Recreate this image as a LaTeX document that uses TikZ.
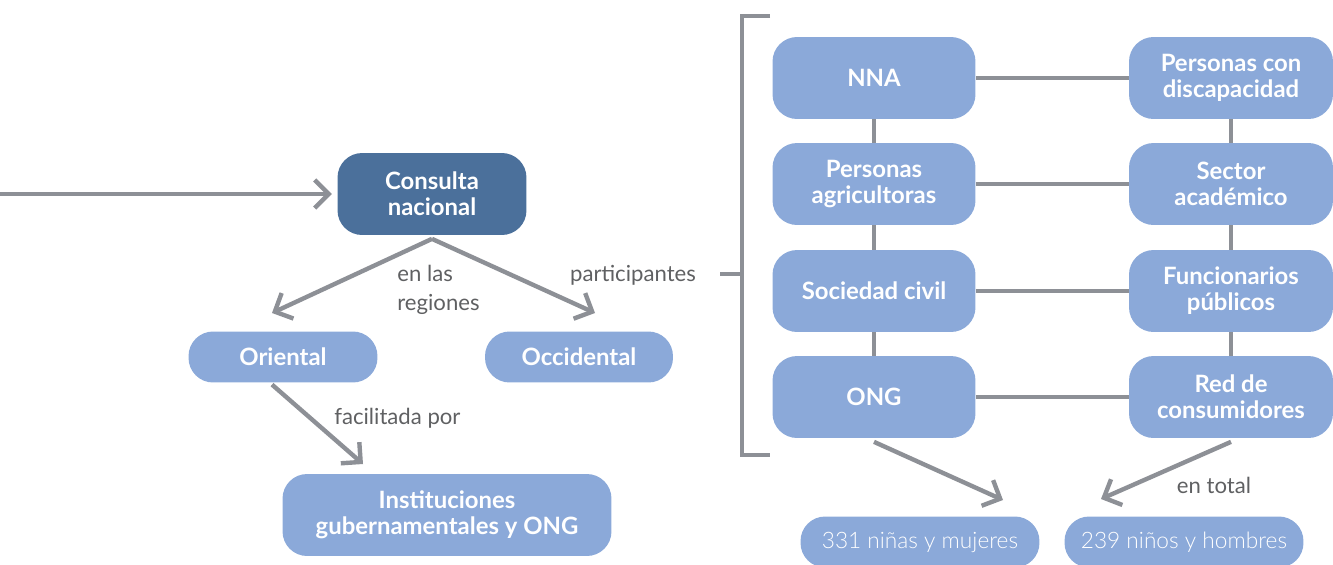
\documentclass[tikz,border=0pt]{standalone}
\usepackage{fontspec}
\setmainfont{Lato}
\newfontfamily\thinfont{Lato Light}
\usetikzlibrary{arrows.meta,positioning}
\definecolor{boxblue}{RGB}{139,169,217}
\definecolor{darkblue}{RGB}{75,112,155}
\definecolor{linegray}{RGB}{141,144,150}
\definecolor{labelgray}{RGB}{95,96,98}

\begin{document}
\begin{tikzpicture}[x=0.02cm,y=-0.02cm,
  box/.style={fill=boxblue,rounded corners=14pt,text=white,align=center,inner sep=0pt,
    font=\fontsize{13.6}{14.8}\selectfont\bfseries,minimum height=1.64cm},
  pill/.style={box,minimum height=1.02cm},
  thin/.style={pill,font=\fontsize{12.9}{14.8}\selectfont\thinfont},
  lbl/.style={text=labelgray,align=left,inner sep=0pt,font=\fontsize{12.6}{16.5}\selectfont},
  link/.style={draw=linegray,line width=2.5pt},
  arr/.style={link,-{Straight Barb[length=8pt,width=16pt]}}]
  \useasboundingbox (0,0) rectangle (1333,565);
% left part
  \node[box,fill=darkblue,minimum width=3.78cm] (consulta) at (432,194) {Consulta\\nacional};
  \node[pill,minimum width=3.78cm] (oriental) at (283,357) {Oriental};
  \node[pill,minimum width=3.76cm] (occidental) at (579,357) {Occidental};
  \node[box,minimum width=6.58cm] (instit) at (447,515) {Instituciones\\gubernamentales y ONG};
  \coordinate (entry) at (0,194);
  \coordinate (tipO) at (272,313);
  \coordinate (tipW) at (595,313);
  \coordinate (tipI) at (363,464);
  \draw[arr,shorten >=3pt] (entry) -- (consulta.west);
  \draw[arr] ([yshift=-2pt]consulta.south) -- (tipO);
  \draw[arr] ([yshift=-2pt]consulta.south) -- (tipW);
  \draw[arr] ([xshift=-0.22cm,yshift=-1pt]oriental.south) -- (tipI);
  \node[lbl,anchor=west] (enlas) at (397,290) {en las\\regiones};
  \node[lbl] (partic) at (633,275) {participantes};
  \node[lbl,anchor=west] (facil) at (334,418) {facilitada por};
% bracket
  \coordinate (brtop) at (770,16);
  \coordinate (brbot) at (770,455);
  \coordinate (brmid) at (720,274);
  \draw[link] (brtop) -- (742,16) -- (742,455) -- (brbot);
  \draw[link] (brmid) -- (742,274);
% participant groups
  \node[box,minimum width=4.06cm] (nna) at (874,78) {NNA};
  \node[box,minimum width=4.06cm] (agric) at (874,184) {Personas\\agricultoras};
  \node[box,minimum width=4.06cm] (civil) at (874,291) {Sociedad civil};
  \node[box,minimum width=4.06cm] (ong) at (874,397) {ONG};
  \node[box,minimum width=4.08cm] (discap) at (1231,78) {Personas con\\discapacidad};
  \node[box,minimum width=4.08cm] (academ) at (1231,184) {Sector\\académico};
  \node[box,minimum width=4.08cm] (funcion) at (1231,291) {Funcionarios\\públicos};
  \node[box,minimum width=4.08cm] (red) at (1231,397) {Red de\\consumidores};
  \foreach \a/\b in {nna/agric,agric/civil,civil/ong,discap/academ,academ/funcion,funcion/red,
      nna/discap,agric/academ,civil/funcion,ong/red}
    \draw[link] (\a) -- (\b);
% totals
  \node[thin,minimum width=4.78cm] (mujeres) at (920,542) {331 niñas y mujeres};
  \node[thin,minimum width=4.78cm] (hombres) at (1184,542) {239 niños y hombres};
  \coordinate (tipM) at (1003,500);
  \coordinate (tipH) at (1101,499);
  \draw[arr] ([yshift=-2pt]ong.south) -- (tipM);
  \draw[arr] ([yshift=-2pt]red.south) -- (tipH);
  \node[lbl] (total) at (1214,485) {en total};
\end{tikzpicture}
\end{document}
